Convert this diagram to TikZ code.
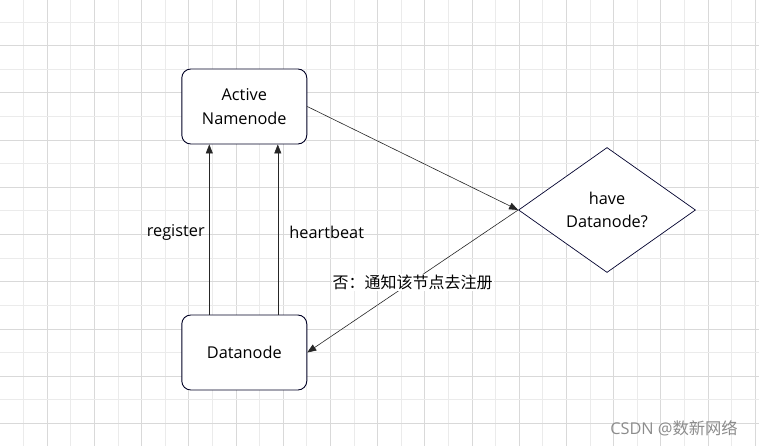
\documentclass[tikz,border=0pt]{standalone}
\usepackage{fontspec}
\setmainfont{Open Sans}
\newfontfamily\cjk{Noto Sans CJK SC}
\usepackage{tikz}
\usetikzlibrary{%
	arrows.meta,%
	shapes.geometric,%
	positioning
}

\begin{document}
\begin{tikzpicture}[x=1pt,y=-1pt,
		every node/.style={font=\fontsize{16.3}{23.5}\selectfont},
		box/.style={draw=black!80!blue!70!black,line width=0.9pt,rounded corners=9pt,fill=white,
			minimum width=125pt,minimum height=75pt,align=center},
		decide/.style={diamond,draw=black!70!blue!60!black,line width=0.7pt,fill=white,
			minimum width=177pt,minimum height=125pt,aspect=1.416,inner sep=0pt,align=center},
		flow/.style={line width=0.6pt,draw=black!85,-{Triangle[length=9pt,width=7pt]}},
		minorgrid/.style={draw=black!8,line width=0.8pt},
		majorgrid/.style={draw=black!15,line width=0.8pt}
	]
	\useasboundingbox (0,0) rectangle (759,446);
	\fill[white] (0,0) rectangle (759,446);
	% Grid
	\foreach \k in {1,...,32}{
		\pgfmathsetmacro{\gx}{23.6*\k-0.1}
		\ifodd\k
			\draw[minorgrid] (\gx,0) -- (\gx,446);
		\else
			\draw[majorgrid] (\gx,0) -- (\gx,446);
		\fi
	}
	\foreach \k in {1,...,18}{
		\pgfmathsetmacro{\gy}{23.6*\k-1.5}
		\ifodd\k
			\draw[minorgrid] (0,\gy) -- (759,\gy);
		\else
			\draw[majorgrid] (0,\gy) -- (759,\gy);
		\fi
	}
	
	% Nodes
	\node[box] (an) at (244.3,106.5) {Active\\Namenode};
	\node[box] (dn) at (244.3,352.5) {Datanode};
	\node[decide] (have) at (607,210) {have\\Datanode?};
	
	% Datanode -> Namenode
	\draw[flow] ([xshift=-35pt]dn.north) -- node[left=1pt,yshift=-3pt] {register} ([xshift=-35pt]an.south);
	\draw[flow] ([xshift=33.5pt]dn.north) -- node[right=8pt,yshift=-3pt] {heartbeat} ([xshift=33.5pt]an.south);
	
	% Namenode -> check -> Datanode
	\draw[flow] (an.east) -- (have.west);
	\draw[flow] (have.west) -- node[fill=white,inner sep=1pt,pos=0.5,yshift=-1pt,font=\fontsize{16}{20}\selectfont] {\cjk 否：通知该节点去注册} (dn.east);
	
	% watermark
	\node[text=black!45,font=\fontsize{16.3}{18}\selectfont] (mark) at (674,428) {CSDN @{\cjk 数新网络}};
\end{tikzpicture}
\end{document}
